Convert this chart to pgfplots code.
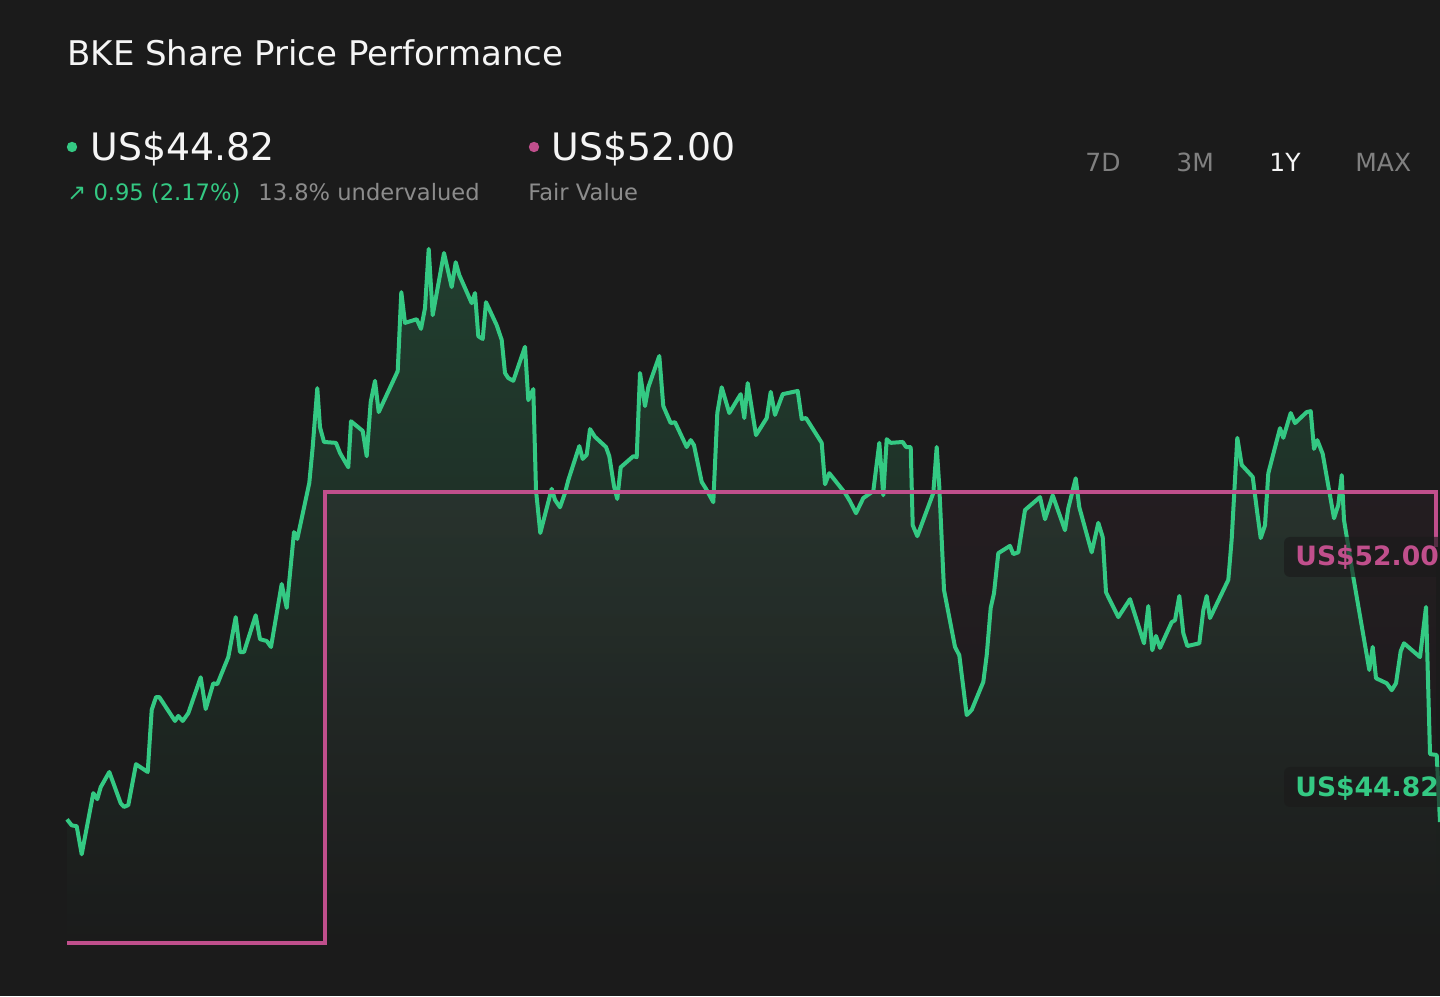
\documentclass[border=0pt]{standalone}
\usepackage{fontspec}
\setmainfont{DejaVu Sans}
\usepackage{pgfplots}
\usepackage{pgfplotstable}
\pgfplotsset{compat=1.18}
\definecolor{bg}{RGB}{27,27,27}
\definecolor{gline}{RGB}{52,201,131}
\definecolor{gtop}{RGB}{33,62,47}
\definecolor{pline}{RGB}{192,79,140}
\definecolor{greytxt}{RGB}{140,140,140}
\definecolor{btn}{RGB}{128,128,128}
\definecolor{wtxt}{RGB}{245,245,245}

\pgfplotstableread{
x y
0 44.88
4.7 44.75
9.7 44.73
14.7 44.12
26.3 45.45
30.3 45.32
33.7 45.58
42.3 45.91
53.7 45.23
57 45.15
61.3 45.19
69 46.08
80.7 45.91
84.7 47.26
89 47.54
92.3 47.54
108 47.02
111.3 47.13
115.7 47.02
121.3 47.19
133.7 47.97
138.7 47.28
146.3 47.84
150.3 47.82
161.3 48.41
168.7 49.28
173 48.52
177 48.52
188.7 49.32
193 48.80
199.7 48.76
204 48.63
214.7 50.00
219.7 49.48
227 51.13
230.3 50.98
242.3 52.20
245.7 52.98
250.3 54.26
253 53.41
257 53.09
269 53.07
273 52.85
281.3 52.54
284 53.54
295.7 53.33
299.7 52.78
303.7 53.96
308 54.42
311.7 53.74
330.7 54.63
334.3 56.35
338 55.68
349.7 55.76
354 55.55
358 56.00
361.7 57.29
365.7 55.85
377 57.20
384.7 56.46
388.7 57.00
392.3 56.72
404.7 56.11
408 56.33
411.3 55.39
415.7 55.33
419 56.13
429.7 55.63
434.7 55.31
438 54.59
441.3 54.48
446.3 54.42
458 55.16
461.3 54.00
466.3 54.24
469 52.04
473.3 51.11
484.7 52.07
488 51.83
493 51.67
498 51.98
501.3 52.26
512.3 53.00
515.7 52.72
519.7 52.81
523 53.37
528 53.20
539 52.98
542.3 52.78
547 52.13
550.3 51.85
553.7 52.54
566.3 52.78
569.7 52.76
573 54.59
578 53.87
581.3 54.28
592.3 54.96
596.3 53.87
603.7 53.50
608 53.52
619.7 52.98
623.7 53.13
627 53.02
634.7 52.22
639 52.07
646.3 51.78
650.3 53.72
654.7 54.28
662.3 53.72
673.7 54.13
677.3 53.61
680.7 54.37
689 53.24
699.7 53.61
703.7 54.18
708 53.68
715.7 54.13
730.7 54.20
734.7 53.59
739 53.61
754.7 53.07
758 52.17
762.3 52.41
778 51.98
783 51.80
789 51.54
796.3 51.87
806.3 52.02
812.3 53.07
816.3 51.93
819.7 53.15
823.7 53.07
835.7 53.09
839 52.98
843.7 52.98
845.7 51.28
850.3 51.04
866.3 51.98
869.7 52.98
872.3 52.11
877 49.87
888 48.63
892.3 48.45
899.7 47.15
904.7 47.26
916.3 47.87
919.7 48.45
923.7 49.48
927 49.80
931.3 50.67
943 50.83
946.3 50.65
951.3 50.69
958 51.61
973 51.89
978 51.41
985.7 51.93
998 51.17
1001.3 51.65
1008.7 52.30
1012.3 51.67
1024.7 50.69
1031.3 51.33
1035.7 51.02
1039 49.82
1051.3 49.28
1063 49.67
1077 48.71
1081.3 49.52
1085.3 48.56
1089 48.87
1093 48.61
1104.7 49.17
1108 49.21
1112.3 49.74
1116.3 48.93
1120.3 48.65
1132.3 48.71
1136.3 49.43
1139.7 49.74
1143 49.26
1161.3 50.09
1164.7 50.98
1170.3 53.18
1174.7 52.59
1185.7 52.33
1190.3 51.54
1193.7 51.00
1198 51.28
1201.3 52.41
1213 53.39
1216.3 53.18
1223.7 53.72
1228 53.50
1239.7 53.74
1243.7 53.76
1247 52.94
1250.3 53.13
1255.7 52.83
1267 51.43
1271.3 51.72
1274.7 52.37
1277 51.39
1286.3 50.15
1302.3 48.13
1305.7 48.63
1309 47.95
1319.7 47.84
1324.7 47.69
1329 47.84
1333.7 48.54
1337 48.71
1353 48.41
1359 49.50
1363 46.30
1369.7 46.28
1373 44.82
}\price

\pgfplotstableread{
x y
0 42.19
258 42.19
258 52.00
1369 52.00
1369 50.80
}\fair

\begin{document}
\begin{tikzpicture}
\useasboundingbox (0,0) rectangle (720pt,498pt);
\clip (0,0) rectangle (720pt,498pt);
\fill[bg] (0,0) rectangle (720pt,498pt);

\begin{axis}[
  at={(33.5pt,26.5pt)}, anchor=south west,
  scale only axis, width=686.5pt, height=471.5pt,
  xmin=0, xmax=1373, ymin=42.19, ymax=62.705,
  axis lines=none, clip=false,
]
\addplot[draw=none, shade, top color=gtop, bottom color=bg, forget plot] table {\price} \closedcycle;
\addplot[draw=none, shade, top color=pline, bottom color=bg, fill opacity=0.055, forget plot] table {\fair} \closedcycle;
\addplot[gline, line width=2pt, line join=round, mark=none] table {\price};
\addplot[pline, line width=1.7pt, line join=miter, mark=none] table {\fair};
\end{axis}

% header
\node[anchor=base west, inner sep=0pt, text=wtxt, font=\fontsize{17pt}{20pt}\selectfont] at (33.5pt,465pt) {BKE Share Price Performance};
\fill[gline] (36pt,424.5pt) circle (2.6pt);
\node[anchor=base west, inner sep=0pt, text=wtxt, font=\fontsize{18.9pt}{22pt}\selectfont] at (45pt,417.5pt) {US\$44.82};
\fill[pline] (267pt,424.5pt) circle (2.6pt);
\node[anchor=base west, inner sep=0pt, text=wtxt, font=\fontsize{18.9pt}{22pt}\selectfont] at (275.5pt,417.5pt) {US\$52.00};
\node[anchor=base west, inner sep=0pt, text=gline, font=\fontsize{11.3pt}{13pt}\selectfont] at (33.5pt,397.5pt) {↗ 0.95 (2.17\%)};
\node[anchor=base west, inner sep=0pt, text=greytxt, font=\fontsize{11.3pt}{13pt}\selectfont] at (129pt,397.5pt) {13.8\% undervalued};
\node[anchor=base west, inner sep=0pt, text=greytxt, font=\fontsize{11.3pt}{13pt}\selectfont] at (264pt,397.5pt) {Fair Value};

\node[anchor=base west, inner sep=0pt, text=btn, font=\fontsize{12.5pt}{15pt}\selectfont] at (542.5pt,412pt) {7D};
\node[anchor=base west, inner sep=0pt, text=btn, font=\fontsize{12.5pt}{15pt}\selectfont] at (588pt,412pt) {3M};
\node[anchor=base west, inner sep=0pt, text=wtxt, font=\fontsize{12.5pt}{15pt}\selectfont] at (634.5pt,412pt) {1Y};
\node[anchor=base west, inner sep=0pt, text=btn, font=\fontsize{12.5pt}{15pt}\selectfont] at (677.5pt,412pt) {MAX};

% value labels
\fill[bg, opacity=0.65, rounded corners=3pt] (642pt,209.5pt) rectangle (740pt,229.5pt);
\node[anchor=base west, inner sep=0pt, text=pline, font=\bfseries\fontsize{13.3pt}{16pt}\selectfont] at (647.5pt,215pt) {US\$52.00};
\fill[bg, opacity=0.65, rounded corners=3pt] (642pt,94.5pt) rectangle (740pt,114.5pt);
\node[anchor=base west, inner sep=0pt, text=gline, font=\bfseries\fontsize{13.3pt}{16pt}\selectfont] at (647.5pt,99.5pt) {US\$44.82};
\end{tikzpicture}
\end{document}
